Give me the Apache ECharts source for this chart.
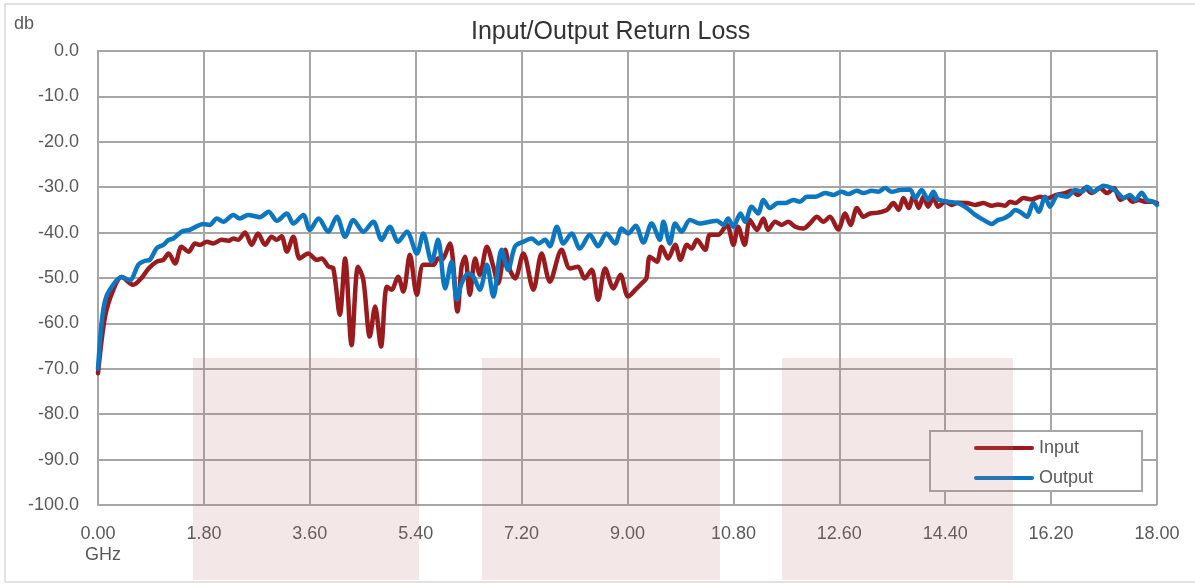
<!DOCTYPE HTML>
<html lang="en">
<head>
<meta charset="utf-8">
<title>Input/Output Return Loss</title>
<script src="https://cdn.jsdelivr.net/npm/echarts@6.0.0/dist/echarts.min.js"></script>
<style>
  html, body { margin: 0; padding: 0; background: #fff; }
  #chart { width: 1195px; height: 584px; }
</style>
</head>
<body>
<div id="chart"></div>
<script>
// values (GHz / dB)
const inputFreq = [0.00, 0.12, 0.26, 0.40, 0.60, 0.74, 0.86, 1.00, 1.11, 1.20, 1.31, 1.42, 1.54, 1.65, 1.73, 1.85, 1.96, 2.10, 2.22, 2.30, 2.38, 2.50, 2.61, 2.72, 2.84, 2.95, 3.04, 3.12, 3.21, 3.32, 3.43, 3.57, 3.72, 3.80, 3.92, 4.00, 4.11, 4.20, 4.31, 4.42, 4.51, 4.62, 4.71, 4.81, 4.91, 4.99, 5.10, 5.19, 5.30, 5.42, 5.53, 5.70, 5.78, 5.84, 5.98, 6.11, 6.18, 6.24, 6.32, 6.41, 6.49, 6.61, 6.72, 6.80, 6.92, 7.00, 7.09, 7.23, 7.40, 7.54, 7.68, 7.88, 8.02, 8.16, 8.27, 8.39, 8.50, 8.62, 8.76, 8.88, 9.01, 9.14, 9.24, 9.32, 9.38, 9.50, 9.58, 9.69, 9.81, 9.90, 10.01, 10.09, 10.18, 10.32, 10.40, 10.54, 10.69, 10.80, 10.88, 10.99, 11.08, 11.20, 11.31, 11.39, 11.51, 11.62, 11.73, 11.85, 11.99, 12.10, 12.22, 12.33, 12.44, 12.58, 12.70, 12.79, 12.90, 13.01, 13.12, 13.26, 13.41, 13.52, 13.61, 13.69, 13.78, 13.86, 13.95, 14.03, 14.11, 14.20, 14.28, 14.40, 14.51, 14.62, 14.77, 14.91, 15.05, 15.19, 15.30, 15.42, 15.50, 15.59, 15.73, 15.87, 16.01, 16.15, 16.29, 16.44, 16.55, 16.66, 16.78, 16.89, 17.03, 17.15, 17.27, 17.38, 17.49, 17.58, 17.69, 17.80, 17.91, 18.00];
const inputDb = [-71.0, -58.5, -52.6, -49.8, -51.5, -50.0, -47.9, -46.4, -46.0, -44.6, -46.8, -43.1, -44.2, -42.4, -42.7, -42.0, -42.4, -41.6, -41.8, -41.3, -41.6, -40.0, -42.7, -40.2, -42.7, -40.9, -41.6, -40.8, -44.2, -40.9, -45.7, -44.6, -46.0, -45.7, -47.5, -47.9, -58.1, -45.7, -64.8, -47.5, -50.4, -62.9, -56.3, -65.1, -51.9, -52.6, -49.7, -53.0, -44.9, -53.7, -47.1, -47.1, -45.7, -46.0, -42.4, -57.4, -47.5, -45.3, -53.7, -45.7, -49.3, -43.1, -47.5, -51.2, -43.8, -48.2, -50.1, -44.6, -52.6, -44.6, -50.8, -43.8, -47.9, -47.5, -50.1, -48.2, -54.8, -47.9, -52.3, -49.3, -54.1, -52.5, -51.2, -50.1, -45.3, -46.4, -43.1, -45.7, -42.7, -46.0, -42.7, -43.5, -41.6, -43.8, -40.5, -40.5, -38.3, -42.7, -38.7, -42.7, -37.2, -39.4, -36.9, -39.4, -37.6, -38.3, -37.6, -38.7, -39.1, -38.0, -36.5, -37.6, -36.5, -39.3, -35.8, -38.3, -34.6, -36.5, -35.8, -35.6, -35.0, -33.5, -35.0, -32.4, -34.6, -31.9, -34.6, -32.1, -34.3, -32.2, -34.3, -33.2, -33.9, -33.4, -33.5, -33.9, -33.5, -34.1, -33.8, -34.1, -33.2, -33.5, -32.4, -32.7, -32.1, -32.4, -31.7, -31.3, -30.8, -31.7, -30.2, -31.3, -30.2, -31.3, -30.2, -32.8, -32.1, -33.2, -32.8, -33.2, -33.2, -33.5];

const outputFreq = [0.00, 0.06, 0.12, 0.20, 0.40, 0.54, 0.69, 0.80, 0.88, 1.00, 1.11, 1.20, 1.28, 1.42, 1.56, 1.79, 1.90, 2.02, 2.13, 2.30, 2.41, 2.55, 2.75, 2.90, 3.04, 3.21, 3.32, 3.49, 3.60, 3.75, 3.91, 4.06, 4.20, 4.34, 4.51, 4.68, 4.82, 4.96, 5.10, 5.25, 5.42, 5.53, 5.67, 5.78, 5.90, 6.01, 6.10, 6.18, 6.29, 6.38, 6.49, 6.61, 6.72, 6.86, 6.97, 7.09, 7.23, 7.37, 7.49, 7.60, 7.68, 7.80, 7.91, 8.05, 8.19, 8.36, 8.50, 8.64, 8.79, 8.90, 9.01, 9.14, 9.27, 9.41, 9.55, 9.61, 9.72, 9.81, 9.92, 10.06, 10.23, 10.40, 10.52, 10.63, 10.71, 10.80, 10.92, 11.00, 11.11, 11.22, 11.31, 11.42, 11.56, 11.68, 11.82, 11.93, 12.05, 12.19, 12.36, 12.50, 12.64, 12.75, 12.90, 13.01, 13.15, 13.26, 13.38, 13.49, 13.63, 13.80, 13.89, 14.00, 14.11, 14.20, 14.28, 14.45, 14.62, 14.77, 14.91, 15.05, 15.19, 15.30, 15.39, 15.50, 15.59, 15.67, 15.79, 15.90, 15.99, 16.10, 16.18, 16.32, 16.47, 16.61, 16.73, 16.81, 16.92, 17.09, 17.23, 17.34, 17.43, 17.54, 17.63, 17.74, 17.83, 17.94, 18.00];
const outputDb = [-70.0, -60.0, -55.0, -52.6, -49.8, -50.5, -47.0, -46.2, -46.0, -43.4, -42.7, -41.6, -41.3, -39.8, -39.4, -38.1, -38.3, -36.9, -37.6, -36.1, -36.9, -36.1, -36.6, -35.4, -37.4, -35.8, -38.0, -36.1, -39.4, -36.9, -39.8, -36.5, -40.9, -37.2, -39.8, -37.6, -41.6, -38.7, -42.0, -39.8, -44.6, -40.2, -46.4, -41.6, -52.3, -46.4, -54.8, -51.2, -49.0, -49.7, -52.6, -47.1, -54.1, -43.8, -48.2, -43.0, -42.0, -41.3, -42.4, -41.6, -43.0, -38.7, -42.4, -40.2, -43.5, -40.5, -43.0, -40.2, -42.4, -39.1, -40.2, -38.5, -42.2, -38.0, -41.6, -37.6, -42.4, -38.0, -39.8, -37.2, -38.0, -37.6, -37.4, -38.3, -36.9, -38.7, -35.8, -37.6, -34.3, -35.8, -32.8, -34.6, -33.5, -33.5, -32.8, -33.2, -32.1, -32.1, -31.3, -31.7, -31.0, -31.5, -30.8, -31.3, -30.8, -31.0, -30.2, -31.0, -30.6, -30.5, -32.4, -30.6, -32.8, -31.0, -32.7, -33.2, -33.5, -34.6, -36.1, -37.2, -38.1, -37.2, -36.9, -36.1, -35.0, -35.4, -36.5, -33.5, -35.4, -32.1, -34.3, -31.7, -32.1, -30.6, -31.0, -29.9, -31.0, -29.7, -30.2, -31.3, -32.4, -31.7, -32.8, -31.2, -32.8, -33.2, -33.9];

const seriesNames = ['Input', 'Output'];
const seriesColors = ['#991b1e', '#0c76c0'];

function pairs(xs, ys) {
  return xs.map((x, i) => [x, ys[i]]);
}

// pale overlay bands (pixel boxes)
const bands = [[193, 358, 226, 222], [482, 358, 238, 222], [782, 358, 231, 222]];

var labelFont = { color: '#595959', fontSize: 18, fontFamily: 'Liberation Sans' };
var gridLine = { color: '#a6a6a6', width: 2 };

var chart = echarts.init(document.getElementById('chart'), null, { renderer: 'canvas' });
chart.setOption({
  animation: false,
  backgroundColor: '#fff',
  title: [
    {
      text: 'Input/Output Return Loss',
      left: 466,
      top: 15,
      textStyle: { color: '#333', fontSize: 25, fontWeight: 'normal', fontFamily: 'Liberation Sans' }
    },
    {
      text: 'db',
      left: 9,
      top: 10,
      textStyle: { color: '#595959', fontSize: 18, fontWeight: 'normal', fontFamily: 'Liberation Sans' }
    }
  ],
  grid: { left: 98, right: 38, top: 51, bottom: 79, containLabel: false },
  legend: {
    orient: 'vertical',
    left: 930,
    top: 431,
    padding: [8, 49, 4, 44],
    itemGap: 12,
    itemWidth: 60,
    itemHeight: 16,
    backgroundColor: '#fff',
    borderColor: '#a6a6a6',
    borderWidth: 2,
    textStyle: { color: '#595959', fontSize: 18, lineHeight: 16, fontFamily: 'Liberation Sans' },
    data: seriesNames.map((n) => ({ name: n, icon: 'path://M2,0 L58,0 A2,2 0 0 1 58,4 L2,4 A2,2 0 0 1 2,0 Z' }))
  },
  xAxis: {
    type: 'value',
    min: 0,
    max: 18,
    interval: 1.8,
    axisLine: { show: true, lineStyle: gridLine },
    axisTick: { show: false },
    splitLine: { show: true, lineStyle: gridLine },
    axisLabel: Object.assign({
      margin: 19,
      lineHeight: 21,
      formatter: (v) => v === 0 ? '0.00\n  GHz' : v.toFixed(2)
    }, labelFont)
  },
  yAxis: {
    type: 'value',
    min: -100,
    max: 0,
    interval: 10,
    axisLine: { show: true, lineStyle: gridLine },
    axisTick: { show: false },
    splitLine: { show: true, lineStyle: gridLine },
    axisLabel: Object.assign({
      margin: 19,
      formatter: (v) => v.toFixed(1)
    }, labelFont)
  },
  series: [
    {
      name: seriesNames[0],
      type: 'line',
      data: pairs(inputFreq, inputDb),
      showSymbol: false,
      symbol: 'none',
      smooth: 0.3,
      color: seriesColors[0],
      lineStyle: { width: 4.5, color: seriesColors[0], cap: 'round', join: 'round' },
      z: 2
    },
    {
      name: seriesNames[1],
      type: 'line',
      data: pairs(outputFreq, outputDb),
      showSymbol: false,
      symbol: 'none',
      smooth: 0.3,
      color: seriesColors[1],
      lineStyle: { width: 4.5, color: seriesColors[1], cap: 'round', join: 'round' },
      z: 3
    }
  ],
  graphic: [
    {
      type: 'rect',
      z: -10,
      shape: { x: 5, y: 4, width: 1210, height: 578 },
      style: { fill: null, stroke: '#d9d9d9', lineWidth: 1.5 },
      silent: true
    }
  ].concat(bands.map((b) => ({
    type: 'rect',
    z: 100,
    shape: { x: b[0], y: b[1], width: b[2], height: b[3] },
    style: { fill: 'rgba(190,110,110,0.17)' },
    silent: true
  })))
});
</script>
</body>
</html>
